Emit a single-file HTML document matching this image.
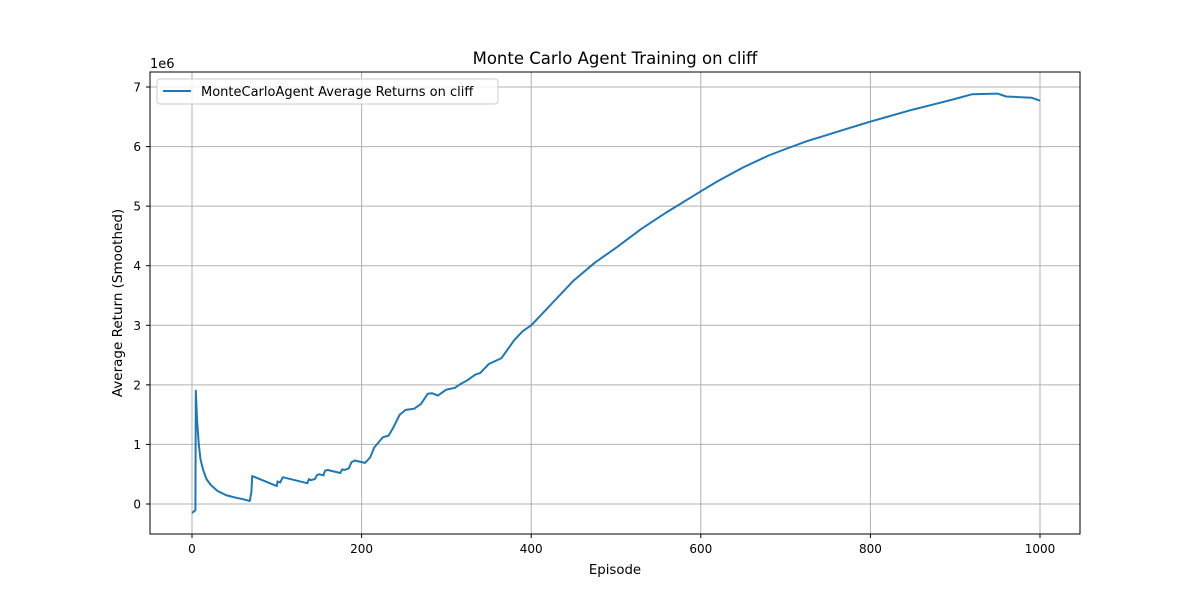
<!DOCTYPE html>
<html><head><meta charset="utf-8"><style>
body{margin:0;background:#fff;font-family:"Liberation Sans","DejaVu Sans",sans-serif}
svg text{font-family:"DejaVu Sans","Liberation Sans",sans-serif;fill:#000}
</style></head><body>
<svg id="chart" width="1200" height="600">
<rect width="1200" height="600" fill="#fff"/>
<g id="grid"></g>
<path id="line" fill="none" stroke="#1f77b4" stroke-width="2" stroke-linejoin="round"/>
<rect x="150" y="72" width="930" height="462" fill="none" stroke="#000" stroke-width="1"/>
<g id="ticks"></g>
<text x="615" y="64" font-size="16.5" text-anchor="middle">Monte Carlo Agent Training on cliff</text>
<text x="615" y="574" font-size="13.3" text-anchor="middle">Episode</text>
<text transform="translate(122,303) rotate(-90)" font-size="13.5" text-anchor="middle">Average Return (Smoothed)</text>
<text x="150" y="68" font-size="13">1e6</text>
<g>
<rect x="157" y="79" width="341" height="25" rx="3" fill="#fff" fill-opacity="0.8" stroke="#ccc"/>
<line x1="163" y1="91" x2="191" y2="91" stroke="#1f77b4" stroke-width="2"/>
<text x="201" y="96" font-size="13">MonteCarloAgent Average Returns on cliff</text>
</g>
</svg>
<script>
const episodes=[0,3,4,4.5,6,8,10,13,17,22,30,40,50,60,68,70,71,100,101,104,107,136,138,140,145,147,150,155,157,160,175,177,180,185,188,192,204,210,215,225,232,238,245,252,262,270,278,283,290,300,310,315,325,334,340,350,365,380,390,400,410,430,450,475,500,530,560,600,620,650,680,700,725,750,775,800,825,850,875,900,920,950,960,990,1000];
const returnsM=[-0.15,-0.12,-0.1,1.9,1.4,1.0,0.75,0.58,0.42,0.32,0.22,0.15,0.11,0.08,0.05,0.2,0.47,0.3,0.38,0.36,0.45,0.35,0.42,0.40,0.42,0.48,0.5,0.48,0.56,0.57,0.52,0.58,0.57,0.6,0.70,0.73,0.69,0.78,0.95,1.12,1.15,1.3,1.5,1.58,1.6,1.68,1.85,1.86,1.82,1.92,1.95,2.0,2.08,2.17,2.2,2.35,2.45,2.75,2.9,3.0,3.15,3.45,3.75,4.05,4.3,4.62,4.9,5.25,5.42,5.65,5.85,5.96,6.09,6.2,6.31,6.42,6.52,6.62,6.71,6.8,6.88,6.89,6.84,6.82,6.77];
const xTicks=[0,200,400,600,800,1000];
const yTicks=[0,1,2,3,4,5,6,7];
const X=v=>192+v*0.848, Y=v=>504-v*59.57;
const ns="http://www.w3.org/2000/svg";
const grid=document.getElementById('grid'), ticks=document.getElementById('ticks');
function mk(tag,attrs,parent){const e=document.createElementNS(ns,tag);for(const k in attrs)e.setAttribute(k,attrs[k]);parent.appendChild(e);return e;}
xTicks.forEach(t=>{
 const g=mk('line',{x1:X(t),x2:X(t),y1:72,y2:534,stroke:'#b0b0b0','stroke-width':1},grid);
 
 
 mk('line',{x1:X(t),x2:X(t),y1:534,y2:538,stroke:'#000'},ticks);
 const tx=mk('text',{x:X(t),y:553,'font-size':12,'text-anchor':'middle'},ticks);tx.textContent=t;
 
 
});
yTicks.forEach(t=>{
 const g=mk('line',{x1:150,x2:1080,y1:Y(t),y2:Y(t),stroke:'#b0b0b0','stroke-width':1},grid);
 
 
 mk('line',{x1:146,x2:150,y1:Y(t),y2:Y(t),stroke:'#000'},ticks);
 const tx=mk('text',{x:141,y:Y(t)+4.5,'font-size':12,'text-anchor':'end'},ticks);tx.textContent=t;
 
 
});
document.getElementById('line').setAttribute('d',episodes.map((e,i)=>(i?'L':'M')+X(e).toFixed(1)+' '+Y(returnsM[i]).toFixed(1)).join(' '));
</script>
</body></html>
